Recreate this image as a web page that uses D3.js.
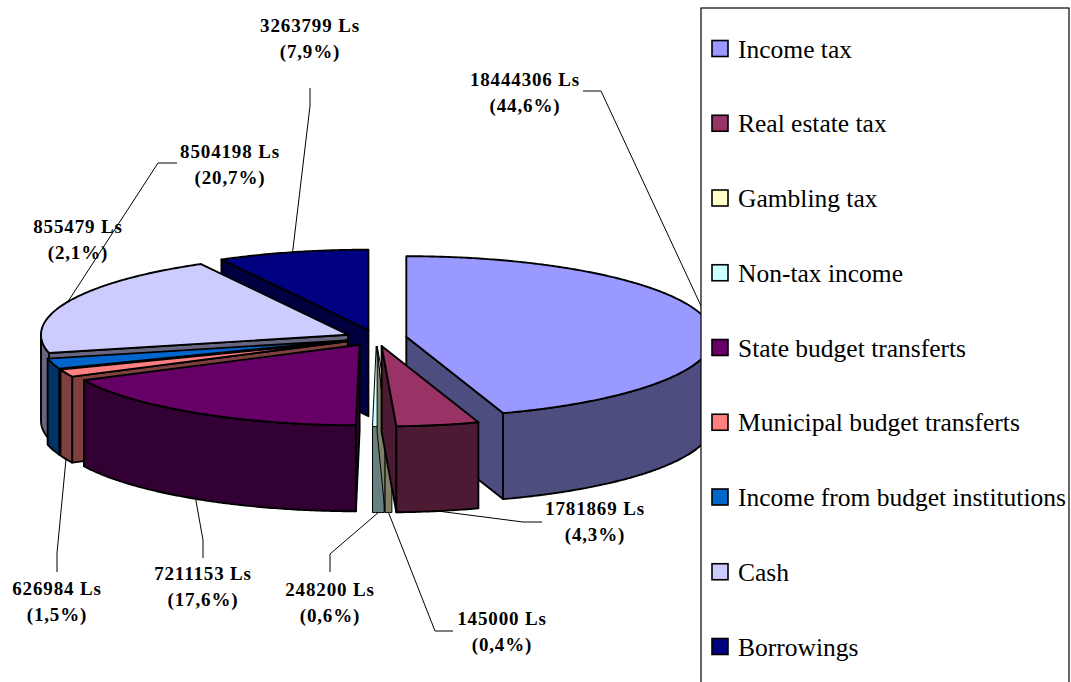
<!DOCTYPE html>
<html><head><meta charset="utf-8">
<script src="https://cdn.jsdelivr.net/npm/d3@7/dist/d3.min.js"></script>
<style>html,body{margin:0;padding:0;background:#fff;overflow:hidden}svg{display:block}</style>
</head><body><svg id="c" width="1071" height="682"></svg>
<script>
const categories = ["Income tax","Real estate tax","Gambling tax","Non-tax income","State budget transferts","Municipal budget transferts","Income from budget institutions","Cash","Borrowings"];
const values = [18444306,1781869,145000,248200,7211153,626984,855479,8504198,3263799];
const percents = ["44,6%","4,3%","0,4%","0,6%","17,6%","1,5%","2,1%","20,7%","7,9%"];
const topColors = ["#9999FF","#993366","#FFFFCC","#CCFFFF","#660066","#FF8080","#0066CC","#CCCCFF","#000080"];
const sideColors = ["#4D4D80","#4D1A33","#808066","#668080","#330033","#804040","#003366","#666680","#000040"];
const paintOrder = [8,0,7,6,5,4,3,2,1];
// label layout: centre x, first baseline, leader elbows, whether the anchor is on the lower rim
const labelLayout = [
 {x:525,y:86,el:[[583,91],[601,91]],low:false},
 {x:595,y:515,el:[[542,522],[523,522]],low:true},
 {x:502,y:625,el:[[453,631],[435,631]],low:true},
 {x:330,y:596,el:[[330,572],[330,554]],low:true},
 {x:203,y:580,el:[[203,558],[203,540]],low:true},
 {x:57,y:595,el:[[57,572],[57,553]],low:true},
 {x:78,y:233,el:null,low:false},
 {x:230,y:158,el:[[177,163],[158,163]],low:false},
 {x:310,y:32,el:[[310,88],[310,106]],low:false}
];
const cx=376, cy=338, rx=307, ry=80.5, depth=86, explode=0.1;
const sx=d3.scaleLinear().domain([-1,1]).range([cx-rx,cx+rx]);
const sy=d3.scaleLinear().domain([-1,1]).range([cy-ry,cy+ry]);
const svg=d3.select("#c");
const slices=d3.pie().sort(null).startAngle(0).endAngle(2*Math.PI)(values);
const unit=a=>[Math.sin(a),-Math.cos(a)];
function geom(s){
  const mid=(s.startAngle+s.endAngle)/2, u=unit(mid);
  const ax=sx(u[0]*explode), ay=sy(u[1]*explode);
  const pt=(a)=>{const v=unit(a);return [ax+sx(v[0])-cx, ay+sy(v[1])-cy];};
  return {mid,ax,ay,pt};
}
const line=d3.line();
const arcPts=(g,a0,a1)=>{const n=Math.max(2,Math.ceil((a1-a0)/0.01));return d3.range(n+1).map(i=>g.pt(a0+(a1-a0)*i/n));};
const gPie=svg.append("g");
function poly(pts,fill,w){
  gPie.append("path").attr("d",line(pts)+"Z").attr("fill",fill)
    .attr("stroke","#000").attr("stroke-width",w).attr("stroke-linejoin","round");
}
paintOrder.forEach(i=>{
  const s=slices[i], g=geom(s), a=[g.ax,g.ay];
  const w=(s.endAngle-s.startAngle)<0.05?1:1.9; // sliver slices keep their fill visible
  const down=p=>[p[0],p[1]+depth];
  // only the cut faces turned toward the viewer are drawn
  if(-Math.sin(s.startAngle)>1e-9){const p=g.pt(s.startAngle);poly([a,p,down(p),down(a)],sideColors[i],w);}
  if(Math.sin(s.endAngle)>1e-9){const p=g.pt(s.endAngle);poly([a,p,down(p),down(a)],sideColors[i],w);}
  const f0=Math.max(s.startAngle,Math.PI/2), f1=Math.min(s.endAngle,3*Math.PI/2);
  if(f1>f0){
    const rim=arcPts(g,f0,f1);
    poly(rim.concat(rim.slice().reverse().map(down)),sideColors[i],w);
  }
  poly([a].concat(arcPts(g,s.startAngle,s.endAngle)),topColors[i],w);
});
// leaders
const fmt=v=>String(v)+" Ls";
const gLab=svg.append("g");
labelLayout.forEach((l,i)=>{
  if(l.el){
    const g=geom(slices[i]);
    let p=g.pt(g.mid);
    if(l.low) p=[p[0],p[1]+depth];
    gLab.append("path").attr("d",line(l.el.concat([p]))).attr("fill","none").attr("stroke","#000").attr("stroke-width",1);
  }
});
labelLayout.forEach((l,i)=>{
  gLab.append("text").attr("x",l.x).attr("y",l.y).text(fmt(values[i]));
  gLab.append("text").attr("x",l.x).attr("y",l.y+26).text("("+percents[i]+")");
});
gLab.selectAll("text").attr("text-anchor","middle").attr("font-family","'Liberation Serif',serif")
  .attr("font-weight","bold").attr("font-size",19).attr("letter-spacing",0.85).attr("fill","#000");
// legend
const leg=svg.append("g");
leg.append("rect").attr("x",701).attr("y",8).attr("width",368).attr("height",720).attr("fill","#fff").attr("stroke","#000").attr("stroke-width",1.2);
const rowY=d3.scalePoint().domain(categories).range([49,647]);
categories.forEach((c,i)=>{
  const y=rowY(c);
  leg.append("rect").attr("x",712).attr("y",y-8.5).attr("width",16).attr("height",16).attr("fill",topColors[i]).attr("stroke","#000").attr("stroke-width",1.6);
  leg.append("text").attr("x",738).attr("y",y+8.5).attr("font-family","'Liberation Serif',serif").attr("font-size",25.5).attr("fill","#000").text(c);
});
</script></body></html>
